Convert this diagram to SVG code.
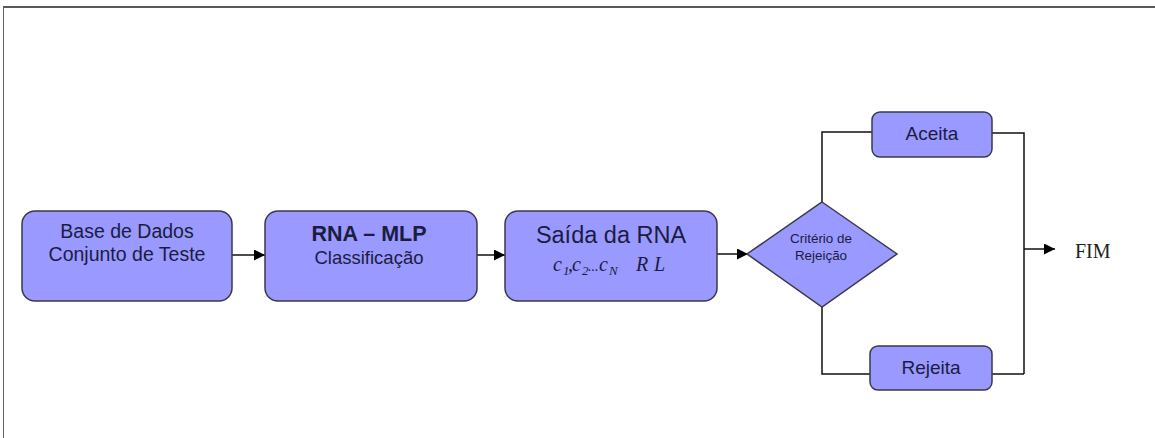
<svg xmlns="http://www.w3.org/2000/svg" width="1155" height="438" viewBox="0 0 1155 438">
<style>
.box{fill:#9999ff;stroke:#3a3a4a;stroke-width:1.5}
.t{font-family:"Liberation Sans",Arial,sans-serif;fill:#1c1c40;text-anchor:middle}
.ln{fill:none;stroke:#111;stroke-width:1.5}
.m{font-family:"Liberation Serif","Times New Roman",serif;font-style:italic;fill:#1c1c40;font-size:20px}
.s{font-size:13px}
</style>
<defs>
<marker id="ah" viewBox="0 0 10 10" refX="10" refY="5" markerWidth="15" markerHeight="11" markerUnits="userSpaceOnUse" orient="auto">
<path d="M0,0 L10,5 L0,10 z" fill="#000"/>
</marker>
</defs>
<rect x="0" y="0" width="1155" height="438" fill="#fff"/>
<line x1="3" y1="7" x2="1155" y2="7" stroke="#222" stroke-width="1.5"/>
<line x1="3.5" y1="7" x2="3.5" y2="438" stroke="#666" stroke-width="1"/>
<g id="connectors">
<line class="ln" x1="232" y1="255" x2="265" y2="255" marker-end="url(#ah)"/>
<line class="ln" x1="477" y1="255" x2="505" y2="255" marker-end="url(#ah)"/>
<line class="ln" x1="717" y1="254" x2="748" y2="254" marker-end="url(#ah)"/>
<polyline class="ln" points="822,202 822,132 872,132"/>
<polyline class="ln" points="822,307 822,374 870,374"/>
<polyline class="ln" points="992,133 1024,133 1024,374"/>
<line class="ln" x1="992" y1="374" x2="1024" y2="374"/>
<line class="ln" x1="1024" y1="249" x2="1055" y2="249" marker-end="url(#ah)"/>
</g>
<g id="n1">
<rect class="box" x="22" y="211" width="210" height="90" rx="13"/>
<text class="t" x="127" y="238" font-size="19.5">Base de Dados</text>
<text class="t" x="127" y="261" font-size="19.5">Conjunto de Teste</text>
</g>
<g id="n2">
<rect class="box" x="265" y="211" width="212" height="90" rx="13"/>
<text class="t" x="369" y="241" font-size="21.5" font-weight="bold" fill="#111">RNA – MLP</text>
<text class="t" x="369" y="264" font-size="18.5">Classificação</text>
</g>
<g id="n3">
<rect class="box" x="505" y="211" width="212" height="90" rx="13"/>
<text class="t" x="611" y="243" font-size="23.5">Saída da RNA</text>
<text class="m" y="271"><tspan x="553">c</tspan><tspan class="s" x="563" dy="4">1</tspan><tspan x="568" dy="-4">,</tspan><tspan x="572">c</tspan><tspan class="s" x="582" dy="4">2</tspan><tspan x="588" dy="-4" font-size="14">...</tspan><tspan x="599">c</tspan><tspan class="s" x="609" dy="4">N</tspan><tspan x="636" dy="-4">R</tspan><tspan x="654">L</tspan></text>
</g>
<g id="n4">
<polygon class="box" points="822,202 897,254 822,307 747,254"/>
<text class="t" x="821" y="243" font-size="13.4">Critério de</text>
<text class="t" x="821" y="260" font-size="13.4">Rejeição</text>
</g>
<g id="n5">
<rect class="box" x="872" y="112" width="120" height="45" rx="8"/>
<text class="t" x="932" y="140" font-size="19">Aceita</text>
</g>
<g id="n6">
<rect class="box" x="870" y="346" width="122" height="44" rx="8"/>
<text class="t" x="931" y="374" font-size="19">Rejeita</text>
</g>
<g id="n7">
<text x="1075" y="258" font-family="Liberation Serif,'Times New Roman',serif" font-size="20" fill="#222">FIM</text>
</g>
</svg>
